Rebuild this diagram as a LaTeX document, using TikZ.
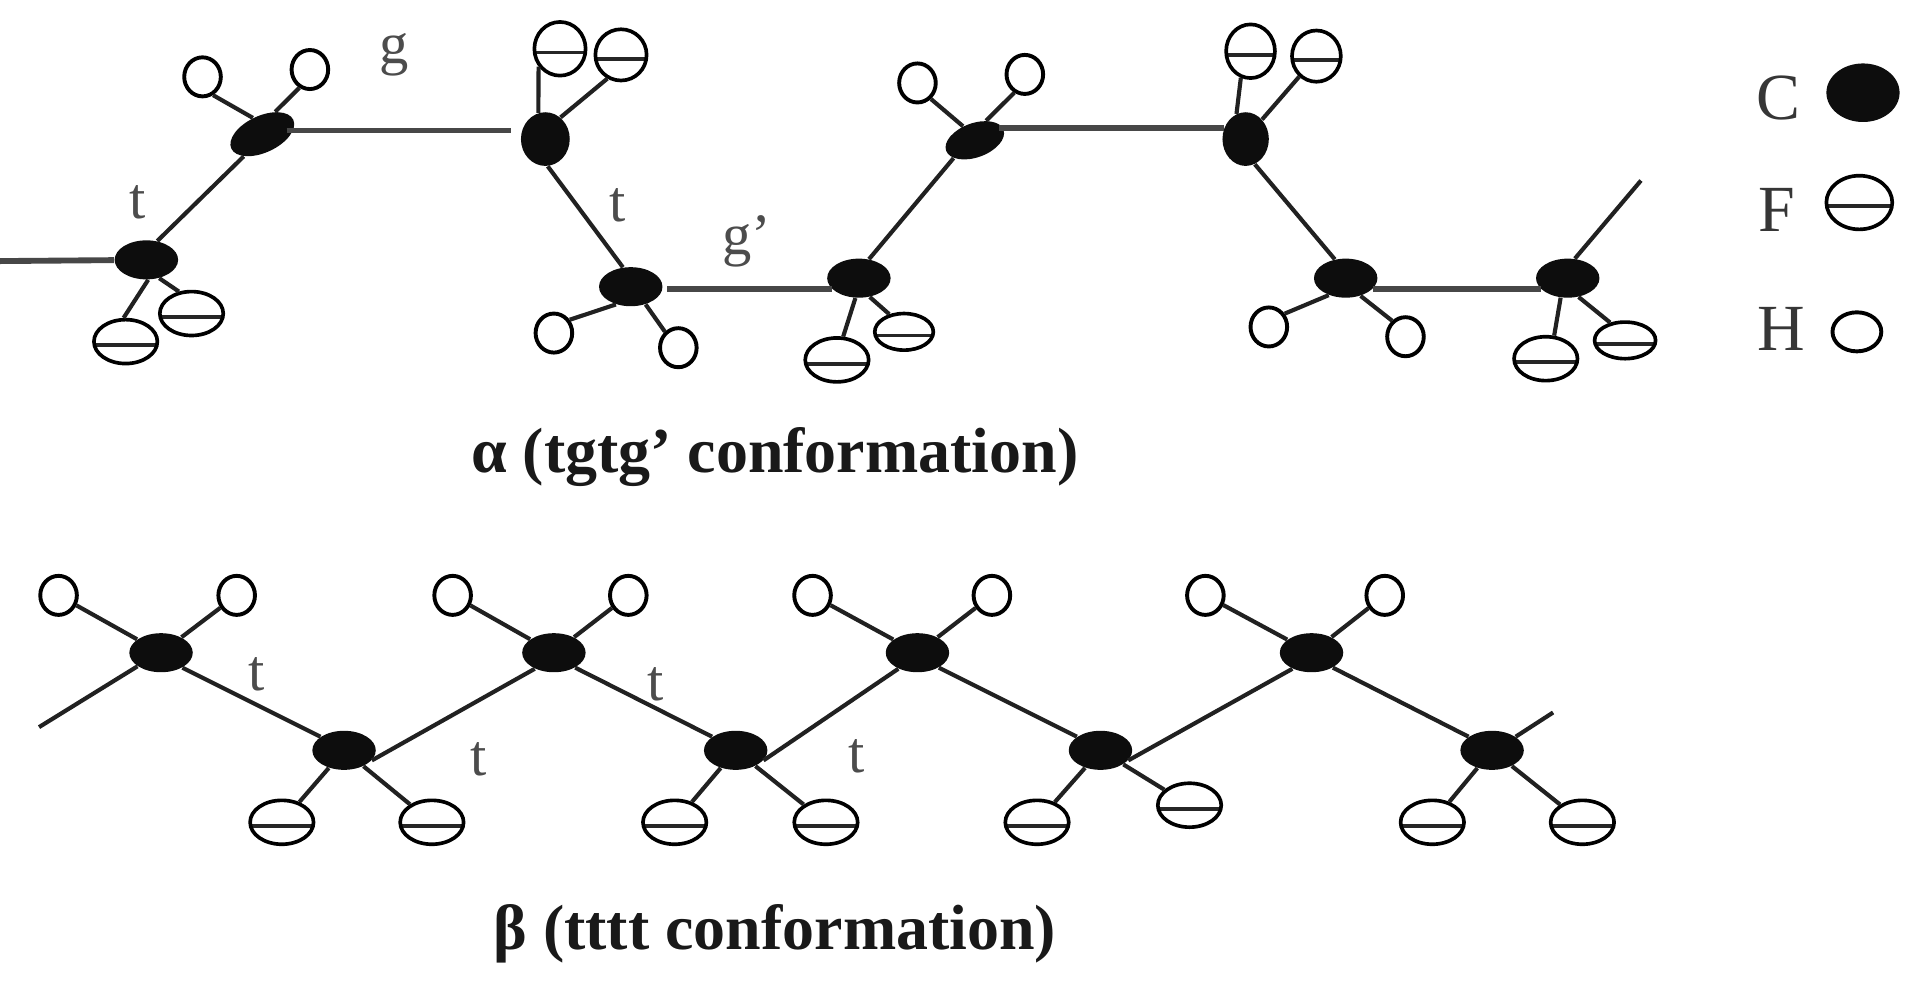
\documentclass[tikz,border=0pt]{standalone}
\usepackage{fontspec}
\setmainfont{Liberation Serif}
\usetikzlibrary{shapes.geometric}
\definecolor{bondc}{gray}{0.13}
\definecolor{lab}{gray}{0.3}
\tikzset{
 cat/.style={ellipse,fill=black!95,inner sep=0pt,minimum width=26pt,minimum height=16pt},
 fl/.style={ellipse,draw=black,line width=1.5pt,fill=white,inner sep=0pt,minimum width=26pt,minimum height=18pt,
   path picture={\draw[line width=1.6pt,black!85] ([yshift=-1.5pt]path picture bounding box.west) -- ([yshift=-1.5pt]path picture bounding box.east);}},
 hy/.style={ellipse,draw=black,line width=1.6pt,fill=white,inner sep=0pt,minimum width=15pt,minimum height=16pt},
 bond/.style={line width=1.7pt,bondc},
 hbond/.style={line width=2.4pt,black!72},
 lbl/.style={font=\fontsize{24pt}{25pt}\selectfont,text=lab,inner sep=0pt},
 leg/.style={font=\fontsize{27pt}{30pt}\selectfont,text=lab!70!black,inner sep=0pt},
 captext/.style={font=\fontsize{26.2pt}{27pt}\selectfont\bfseries,text=black!90,inner sep=0pt},
}
\begin{document}
\begin{tikzpicture}[x=0.5pt,y=-0.5pt]
\useasboundingbox (0,0) rectangle (1568,807);
% alpha chain
\coordinate (aL) at (0,214);
\coordinate (aR) at (1345,148);
\node[cat] (a1) at (120,213) {};
\node[cat,rotate=25,minimum width=28pt,minimum height=15pt] (a2) at (215,110) {};
\node[cat,minimum width=20pt,minimum height=22pt] (a3) at (447,114) {};
\node[cat] (a4) at (517,235) {};
\node[cat] (a5) at (704,228) {};
\node[cat,rotate=20,minimum width=25pt,minimum height=14pt] (a6) at (799,115) {};
\node[cat,minimum width=19pt,minimum height=22pt] (a7) at (1021,114) {};
\node[cat] (a8) at (1103,228) {};
\node[cat] (a9) at (1285,228) {};
\node[fl] (af1) at (103,280) {};
\node[fl] (af2) at (157,257) {};
\node[hy] (ah1) at (166,63) {};
\node[hy] (ah2) at (254,57) {};
\node[fl,minimum width=21pt,minimum height=22pt] (af3) at (459,40) {};
\node[fl,minimum width=21pt,minimum height=21pt] (af4) at (509,45) {};
\node[hy] (ah3) at (454,273) {};
\node[hy] (ah4) at (556,285) {};
\node[fl] (af5) at (686,295) {};
\node[fl,minimum width=24pt,minimum height=15pt] (af6) at (741,272) {};
\node[hy] (ah5) at (752,68) {};
\node[hy] (ah6) at (840,61) {};
\node[fl,minimum width=20pt,minimum height=22pt] (af7) at (1025,42) {};
\node[fl,minimum width=20pt,minimum height=21pt] (af8) at (1079,46) {};
\node[hy] (ah7) at (1040,268) {};
\node[hy] (ah8) at (1152,276) {};
\node[fl] (af9) at (1267,294) {};
\node[fl,minimum width=25pt,minimum height=15pt] (af10) at (1332,279) {};
\draw[hbond] (aL) -- (a1);
\draw[bond] (a1.60) -- (a2.-155);
\draw[hbond] ([shift={(10pt,1.5pt)}]a2.center) -- ([shift={(-14pt,3.5pt)}]a3.center);
\draw[bond] (a3.-85) -- (a4.112);
\draw[hbond] ([shift={(15pt,-1pt)}]a4.center) -- ([shift={(-11pt,-4.5pt)}]a5.center);
\draw[bond] (a5.62) -- (a6.-160);
\draw[hbond] ([shift={(10pt,5pt)}]a6.center) -- ([shift={(-9pt,4.5pt)}]a7.center);
\draw[bond] (a7.-70) -- (a8.120);
\draw[hbond] ([shift={(11pt,-4.5pt)}]a8.center) -- ([shift={(-11pt,-4.5pt)}]a9.center);
\draw[bond] (a9.70) -- (aR);
\foreach \p/\ap/\q/\aq in {a1/-85/af1/95,a1/-55/af2/120,a2/95/ah1/-60,a2/35/ah2/-120,a3/105/af3/-140,a3/55/af4/-120,a4/-130/ah3/40,a4/-50/ah4/130,a5/-100/af5/75,a5/-60/af6/130,a6/110/ah5/-50,a6/40/ah6/-120,a7/110/af7/-110,a7/50/af8/-130,a8/-135/ah7/40,a8/-50/ah8/130,a9/-110/af9/70,a9/-60/af10/130}
  \draw[bond] (\p.\ap) -- (\q.\aq);
% beta chain
\coordinate (bL) at (32,596);
\coordinate (bR) at (1273,584);
\node[cat] (b1) at (132,535) {};
\node[cat] (b2) at (282,615) {};
\node[cat] (b3) at (454,535) {};
\node[cat] (b4) at (603,615) {};
\node[cat] (b5) at (752,535) {};
\node[cat] (b6) at (902,615) {};
\node[cat] (b7) at (1075,535) {};
\node[cat] (b8) at (1223,615) {};
\node[hy] (bh1) at (48,488) {};
\node[hy] (bh2) at (194,488) {};
\node[hy] (bh3) at (371,488) {};
\node[hy] (bh4) at (515,488) {};
\node[hy] (bh5) at (666,488) {};
\node[hy] (bh6) at (813,488) {};
\node[hy] (bh7) at (988,488) {};
\node[hy] (bh8) at (1135,488) {};
\node[fl] (bf1) at (231,674) {};
\node[fl] (bf2) at (354,674) {};
\node[fl] (bf3) at (553,674) {};
\node[fl] (bf4) at (677,674) {};
\node[fl] (bf5) at (850,674) {};
\node[fl] (bf6) at (975,660) {};
\node[fl] (bf7) at (1174,674) {};
\node[fl] (bf8) at (1297,674) {};
\draw[bond] (bL) -- (b1.-150);
\draw[bond] (b1.-35) -- (b2.150);
\draw[bond] (b2.-20) -- (b3.-140);
\draw[bond] (b3.-35) -- (b4.150);
\draw[bond] (b4.-20) -- (b5.-140);
\draw[bond] (b5.-35) -- (b6.150);
\draw[bond] (b6.-20) -- (b7.-140);
\draw[bond] (b7.-35) -- (b8.150);
\draw[bond] (b8.30) -- (bR);
\foreach \p/\q in {b1/bh1,b1/bh2,b3/bh3,b3/bh4,b5/bh5,b5/bh6,b7/bh7,b7/bh8,b2/bf1,b2/bf2,b4/bf3,b4/bf4,b6/bf5,b6/bf6,b8/bf7,b8/bf8}
  \draw[bond] (\p) -- (\q);
% labels
\node[lbl] (la1) at (113,166) {t};
\node[lbl] (la2) at (323,45) {g};
\node[lbl] (la3) at (506,168) {t};
\node[lbl] (la4) at (612,198) {g'};
\node[lbl] (lb1) at (210,553) {t};
\node[lbl] (lb2) at (392,622) {t};
\node[lbl] (lb3) at (537,561) {t};
\node[lbl] (lb4) at (702,620) {t};
\node[captext] (capa) at (635,375) {α (tgtg’ conformation)};
\node[captext] (capb) at (635,765) {β (tttt conformation)};
% legend
\node[leg] (lC) at (1458,80) {C};
\node[leg] (lF) at (1456,172) {F};
\node[leg] (lH) at (1460,270) {H};
\node[cat,minimum width=30pt,minimum height=24pt] (kC) at (1527,76) {};
\node[fl,minimum width=27pt,minimum height=22pt] (kF) at (1524,166) {};
\node[hy,minimum width=20pt,minimum height=16pt] (kH) at (1522,272) {};
\end{tikzpicture}
\end{document}
